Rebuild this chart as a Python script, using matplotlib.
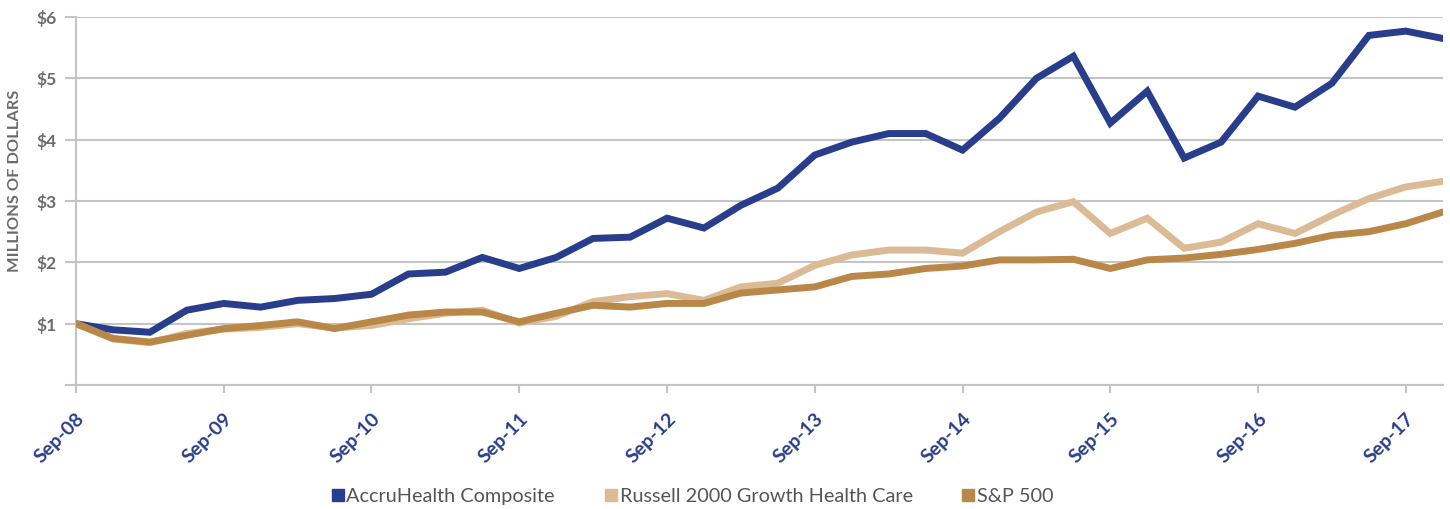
import numpy as np
import matplotlib
matplotlib.use("Agg")
import matplotlib.pyplot as plt
from matplotlib.lines import Line2D

plt.rcParams['font.family'] = ['Lato', 'DejaVu Sans']

# quarterly values, Sep-08 .. Dec-17 (growth of $1M)
accru = [1.00, 0.90, 0.86, 1.22, 1.33, 1.27, 1.38, 1.41, 1.48, 1.81,
         1.84, 2.08, 1.90, 2.08, 2.39, 2.41, 2.72, 2.56, 2.93, 3.21,
         3.75, 3.96, 4.10, 4.10, 3.83, 4.35, 5.00, 5.36, 4.27, 4.79,
         3.70, 3.96, 4.71, 4.53, 4.92, 5.70, 5.77, 5.65]
russell = [1.00, 0.75, 0.69, 0.84, 0.91, 0.94, 1.00, 0.93, 0.97, 1.08,
           1.17, 1.22, 1.01, 1.12, 1.36, 1.44, 1.49, 1.38, 1.60, 1.66,
           1.95, 2.12, 2.20, 2.20, 2.15, 2.50, 2.82, 2.99, 2.47, 2.72,
           2.23, 2.33, 2.63, 2.47, 2.77, 3.04, 3.23, 3.32]
sp500 = [1.00, 0.76, 0.70, 0.81, 0.92, 0.97, 1.03, 0.92, 1.03, 1.14,
         1.19, 1.19, 1.03, 1.17, 1.30, 1.27, 1.33, 1.33, 1.50, 1.55,
         1.60, 1.77, 1.81, 1.90, 1.94, 2.04, 2.04, 2.05, 1.90, 2.04,
         2.07, 2.13, 2.21, 2.31, 2.44, 2.50, 2.63, 2.82]
tick_labels = ['Sep-08', 'Sep-09', 'Sep-10', 'Sep-11', 'Sep-12',
               'Sep-13', 'Sep-14', 'Sep-15', 'Sep-16', 'Sep-17']
y_labels = ['', '$1', '$2', '$3', '$4', '$5', '$6']
names = ['AccruHealth Composite', 'Russell 2000 Growth Health Care', 'S&P 500']
colors = ['#283d8b', '#dbbb95', '#b98848']

x = np.arange(len(accru))
grid_c = '#c4c4c4'

fig = plt.figure(figsize=(14.5, 5.09), dpi=100)
ax = fig.add_axes([0.0524, 0.2436, 0.9426, 0.7230])

for vals, c in zip([accru, russell, sp500], colors):
    ax.plot(x, vals, color=c, lw=5.0, solid_joinstyle='miter', solid_capstyle='round', zorder=3)

ax.set_xlim(0, len(x) - 1)
ax.set_ylim(0, 6)
ax.set_yticks(range(7))
ax.set_yticklabels(y_labels)
ax.set_xticks(x[::4])
ax.set_xticklabels(tick_labels, rotation=45, ha='right', va='top', rotation_mode='anchor')

ax.grid(axis='y', color=grid_c, lw=1.5, zorder=1)
for s in ['top', 'right']:
    ax.spines[s].set_visible(False)
for s in ['left', 'bottom']:
    ax.spines[s].set_color(grid_c)
    ax.spines[s].set_linewidth(1.5)

ax.tick_params(axis='y', length=8, width=1.5, color=grid_c, pad=6,
               labelsize=12.5, labelcolor='#6b6b6b')
ax.tick_params(axis='x', length=6, width=1.5, color=grid_c, pad=12,
               labelsize=14, labelcolor='#283d8b')
for t in ax.get_yticklabels():
    t.set_fontweight('bold')
for t in ax.get_xticklabels():
    t.set_fontweight('bold')

fig.text(0.0105, 0.644, 'MILLIONS OF DOLLARS', rotation=90, ha='center', va='center',
         fontsize=11.8, fontweight='bold', color='#6b6b6b')

handles = [Line2D([], [], marker='s', ls='none', color=c, markersize=9) for c in colors]
fig.legend(handles, names, loc='lower center', bbox_to_anchor=(0.477, -0.028), ncol=3,
           frameon=False, fontsize=14.3, labelcolor='#555555', handletextpad=0.05,
           columnspacing=2.4, handlelength=0.8)

fig.savefig('out.png', dpi=100)
